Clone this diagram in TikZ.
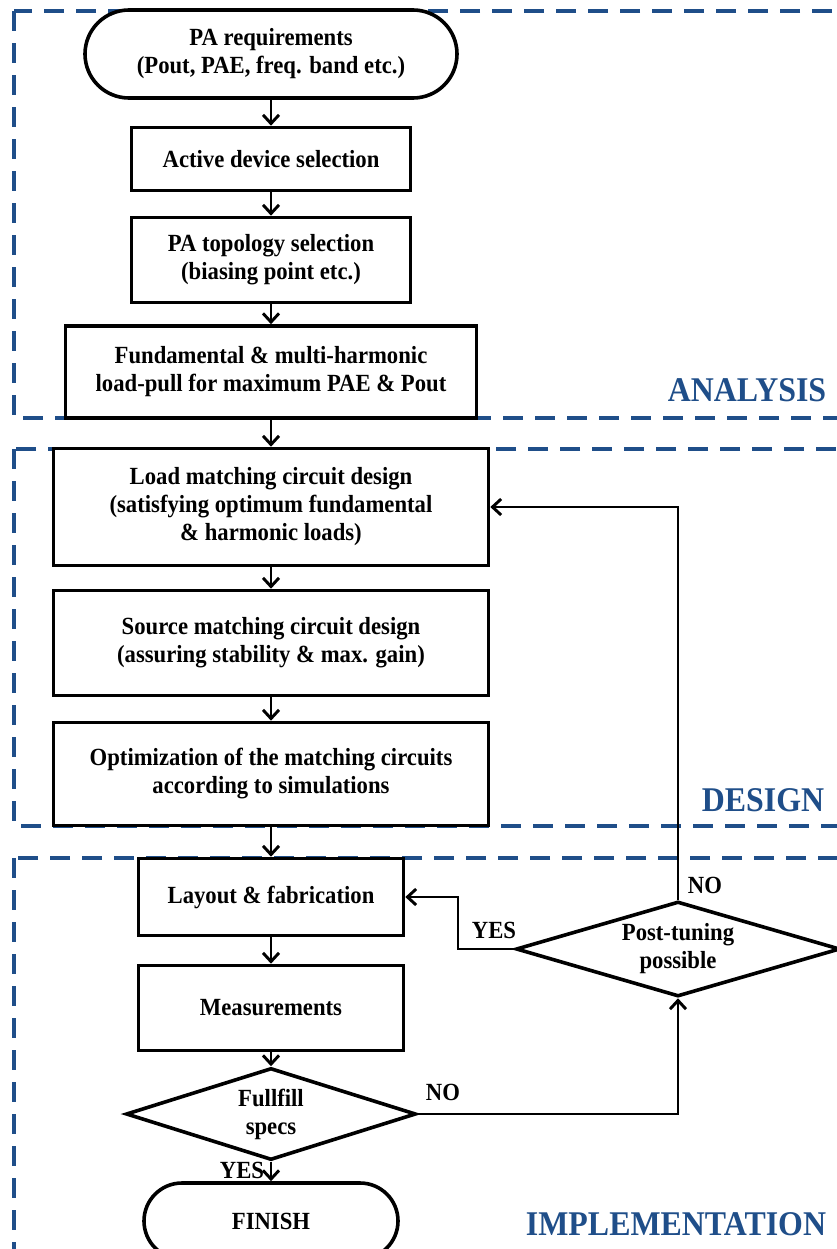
\documentclass[tikz,border=0pt]{standalone}
\usepackage{fontspec}
\setmainfont{Liberation Serif}[FakeStretch=0.92]
\usetikzlibrary{shapes.geometric,arrows.meta}
\definecolor{secblue}{RGB}{31,78,137}
\begin{document}
\begin{tikzpicture}[x=0.75pt,y=-0.75pt,
  box/.style={draw,line width=2.7pt,fill=white,align=center,font=\fontsize{18.5}{21}\selectfont\bfseries,inner sep=0pt},
  term/.style={box,rounded corners=#1},
  dia/.style={box,diamond,aspect=3},
  conn/.style={line width=2.2pt,-{Straight Barb[length=6.5pt,width=12pt]}},
  lbl/.style={font=\fontsize{18.5}{21}\selectfont\bfseries},
  sec/.style={font=\fontsize{26}{30}\selectfont\bfseries,text=secblue},
  zone/.style={draw=secblue,line width=3pt,dash pattern=on 15pt off 9pt}]
\useasboundingbox (0,0) rectangle (837,1249);
\clip (0,0) rectangle (837,1249);
% zones
\draw[zone] (14,11) rectangle (880,418);
\draw[zone] (14,449) rectangle (880,826);
\draw[zone] (14,858) rectangle (880,1300);
% nodes
\node[term=33pt, minimum width=279pt, minimum height=66pt] (req) at (271,54) {PA requirements\\(Pout, PAE, freq. band etc.)};
\node[box, minimum width=209.25pt, minimum height=47.25pt] (active) at (271,159) {Active device selection};
\node[box, minimum width=209.25pt, minimum height=63.75pt] (topo) at (271,260) {PA topology selection\\(biasing point etc.)};
\node[box, minimum width=308.25pt, minimum height=69pt] (fund) at (271,372) {Fundamental \& multi-harmonic\\load-pull for maximum PAE \& Pout};
\node[box, minimum width=326.25pt, minimum height=87.75pt] (load) at (271,507) {Load matching circuit design\\(satisfying optimum fundamental\\\& harmonic loads)};
\node[box, minimum width=326.25pt, minimum height=78.75pt] (src) at (271,643) {Source matching circuit design\\(assuring stability \& max. gain)};
\node[box, minimum width=326.25pt, minimum height=77.25pt] (opt) at (271,774) {Optimization of the matching circuits\\according to simulations};
\node[box, minimum width=198.75pt, minimum height=57.75pt] (layout) at (271,897) {Layout \& fabrication};
\node[box, minimum width=198.75pt, minimum height=63.75pt] (meas) at (271,1008) {Measurements};
\node[dia, minimum width=217.5pt, minimum height=69pt] (ff) at (271,1114) {Fullfill\\specs};
\node[term=28.5pt, minimum width=190.5pt, minimum height=57pt] (fin) at (271,1221) {FINISH};
\node[dia, minimum width=243pt, minimum height=71.25pt] (post) at (678,949) {Post-tuning\\possible};
% connectors
\draw[conn] (req) -- (active);
\draw[conn] (active) -- (topo);
\draw[conn] (topo) -- (fund);
\draw[conn] (fund) -- (load);
\draw[conn] (load) -- (src);
\draw[conn] (src) -- (opt);
\draw[conn] (opt) -- (layout);
\draw[conn] (layout) -- (meas);
\draw[conn] (meas) -- (ff);
\draw[conn] (ff) -- (fin);
\draw[conn] (ff.east) -| (post.south);
\draw[conn] (post.north) |- (load.east);
\coordinate (yb) at (458,949);
\draw[conn] (post.west) -- (yb) |- (layout.east);
% labels
\node[lbl] (no1) at (443,1092) {NO};
\node[lbl] (no2) at (705,885) {NO};
\node[lbl] (yes1) at (494,930) {YES};
\node[lbl] (yes2) at (242,1170) {YES};
\node[sec] (an) at (747,390) {ANALYSIS};
\node[sec] (de) at (763,800) {DESIGN};
\node[sec] (im) at (676,1224) {IMPLEMENTATION};
\end{tikzpicture}
\end{document}
